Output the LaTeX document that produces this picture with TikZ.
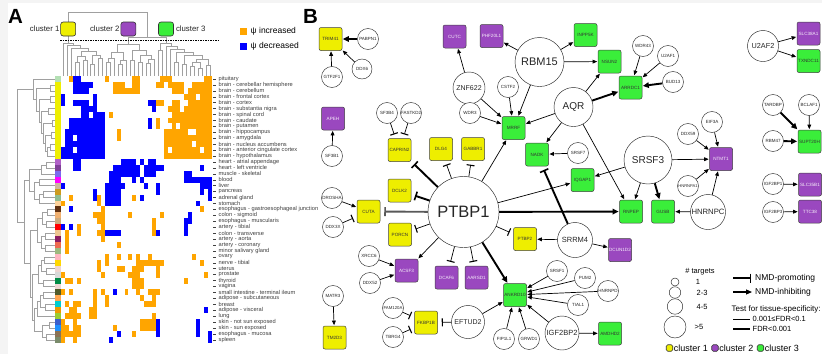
\documentclass[tikz,border=0pt]{standalone}
\usepackage{fontspec}
\setmainfont{Liberation Sans}
\usetikzlibrary{arrows.meta,calc}

\definecolor{hmorange}{HTML}{FFA500}
\definecolor{hmblue}{HTML}{0000FF}
\definecolor{cyel}{HTML}{EEEE00}
\definecolor{cpur}{HTML}{9A48BF}
\definecolor{cgrn}{HTML}{3AEE3A}
\definecolor{dendro}{HTML}{A0A0A0}
\definecolor{labgray}{HTML}{404040}
\definecolor{margin}{HTML}{F4F4F4}

\newcommand\fsz[1]{\fontsize{#1}{#1}\selectfont}
% column dendrogram join: new name, left child, right child, bar height
\newcommand\cmerge[4]{%
  \draw[dline] (#2) -- (#2 |- 0,#4) -- (#3 |- 0,#4) -- (#3);
  \coordinate (#1) at ($(#2 |- 0,#4)!0.5!(#3 |- 0,#4)$);}
% row dendrogram join: new name, upper child, lower child, bar position
\newcommand\rmerge[4]{%
  \draw[dline] (#2) -- (#4,0 |- #2) -- (#4,0 |- #3) -- (#3);
  \coordinate (#1) at ($(#4,0 |- #2)!0.5!(#4,0 |- #3)$);}

\begin{document}
\begin{tikzpicture}[x=1pt,y=-1pt,
  dline/.style={draw=dendro, line width=0.6pt},
  rowlab/.style={anchor=west, inner sep=0pt, font=\fsz{5.7}, text=labgray},
  clbox/.style={rectangle, rounded corners=2.5pt, draw=black!80, line width=0.6pt,
    minimum width=15pt, minimum height=14pt, inner sep=0pt},
  clsq/.style={rectangle, rounded corners=1.5pt, draw=black!80, line width=0.6pt,
    minimum size=6.5pt, inner sep=0pt},
  gene/.style={circle, draw=black!85, line width=0.45pt, fill=white, inner sep=0pt,
    minimum size=21pt, text=black!85, font=\fsz{4.5}},
  tbox/.style={rectangle, rounded corners=2pt, draw=black!75, line width=0.5pt,
    minimum width=23pt, minimum height=23pt, inner sep=0pt, font=\fsz{4.6}},
  yb/.style={tbox, fill=cyel, text=black!80},
  pb/.style={tbox, fill=cpur, text=white!92!cpur},
  gb/.style={tbox, fill=cgrn, text=black!80},
  act/.style={-{Triangle[length=4.5pt,width=3.8pt]}, line width=0.7pt, shorten >=0.6pt},
  tact/.style={-{Triangle[length=6pt,width=5.5pt]}, line width=1.9pt, shorten >=0.6pt},
  inh/.style={-{Bar[width=8pt,line width=1.1pt]}, line width=0.7pt, shorten >=4pt},
  tinh/.style={-{Bar[width=9pt,line width=1.6pt]}, line width=1.9pt, shorten >=4pt}
]
\useasboundingbox (0,0) rectangle (822,354);
\fill[margin] (0,0) rectangle (822,354);
\fill[white] (8,3) rectangle (822,354);

% ================= panel A =================
\node[anchor=base west, inner sep=0pt, font=\bfseries\fsz{20.5}] (labA) at (8,23) {A};

% heatmap cells (row / first column / last column)
\foreach \r/\a/\b in {0/2/2,0/11/11,0/18/19,0/25/27,0/36/37,
  1/13/15,1/18/19,1/24/25,1/27/30,1/33/37,
  2/13/19,2/28/30,2/32/37,
  3/31/33,3/35/37,
  4/24/25,4/28/29,4/32/37,
  5/27/29,5/31/37,
  6/12/12,6/28/37,
  7/24/24,7/27/37,
  8/24/24,8/28/28,8/30/37,
  9/14/14,9/26/31,9/34/37,
  10/14/14,10/26/37,
  11/26/32,11/34/37,
  12/26/26,12/28/34,12/36/37,
  13/26/37,
  20/2/2,20/9/9,20/18/18,
  21/0/0,21/9/9,
  22/10/10,22/35/35,
  23/8/10,23/17/17,23/25/25,
  24/9/10,24/23/23,
  25/4/4,25/10/10,25/23/23,
  26/1/1,26/4/4,26/9/10,26/23/23,
  27/1/1,27/10/10,
  28/1/1,28/14/14,
  29/1/1,
  30/11/11,30/14/14,30/17/17,30/19/19,30/22/22,30/33/33,
  31/9/9,31/11/11,31/19/25,31/35/35,
  32/9/9,32/14/15,32/18/20,32/24/24,
  33/0/0,33/10/10,33/17/19,33/24/24,33/36/36,
  34/1/2,34/4/4,34/18/20,34/31/31,
  35/18/20,
  36/0/0,36/2/2,36/8/8,36/10/10,36/16/16,36/19/19,36/22/24,
  37/8/8,37/11/11,37/20/20,37/23/23,
  38/1/1,38/3/4,38/8/8,38/11/11,38/21/23,
  39/2/3,39/7/8,
  40/1/4,40/7/8,40/23/23,
  41/0/0,41/3/3,41/20/23,
  42/0/1,42/3/4,42/13/13,42/20/23,
  43/0/4,43/18/18,
  44/0/0,44/3/3}
  \fill[hmorange] ({61+3.97*\a},{76+5.93*\r}) rectangle ({61+3.97*(\b+1)},{76+5.93*(\r+1)});
\foreach \r/\a/\b in {0/3/4,1/3/7,2/3/6,3/0/0,3/8/8,
  4/0/0,4/3/6,4/8/8,4/22/23,
  5/5/8,5/23/23,
  6/5/6,6/8/10,
  7/2/10,7/22/22,
  8/2/10,8/22/22,
  9/1/10,
  10/1/2,10/4/10,
  11/1/10,
  12/0/2,12/4/10,
  13/0/10,
  14/3/4,14/15/18,14/20/20,14/22/23,
  15/3/4,15/13/19,15/21/25,15/35/35,
  16/12/19,16/21/23,16/31/32,
  17/12/14,17/18/18,17/20/20,17/31/37,
  18/0/0,18/11/15,18/21/21,18/24/24,18/35/37,
  19/8/8,19/11/14,19/24/24,19/35/35,19/37/37,
  20/8/8,20/11/14,20/20/20,20/37/37,
  21/11/14,21/34/34,
  22/2/2,23/32/32,24/31/32,
  25/0/0,25/2/2,25/31/31,
  26/11/14,26/24/24,26/31/31,
  36/13/13,39/36/36,
  41/24/24,41/34/34,
  42/24/24,42/34/34,
  43/14/14,43/24/24,43/34/34,43/37/37,
  44/12/12,44/37/37}
  \fill[hmblue] ({61+3.97*\a},{76+5.93*\r}) rectangle ({61+3.97*(\b+1)},{76+5.93*(\r+1)});

% tissue colour bar
\foreach \c [count=\i from 0] in {B4E0B4,EEEE00,EEEE00,EEEE00,EEEE00,EEEE00,EEEE00,
  EEEE00,EEEE00,EEEE00,EEEE00,EEEE00,EEEE00,EEEE00,B060C8,7F3F98,7B68EE,FF00FF,
  CDB79E,CD9B1D,8FBC8F,FFD39B,603010,F0B070,CDAA7D,FF0000,EEC591,8B1C62,EE6A50,
  9CBA7F,FFB6C1,FFD700,EED5D2,D9D9D9,008B45,EED5D2,4F5A2A,FFA54F,00CED1,EE9A00,
  9ACD32,3A5FCD,1E90FF,8B7355,7A8B6B}{
  \definecolor{barcol}{HTML}{\c}
  \fill[barcol] (55,{76+5.93*\i}) rectangle (61,{76+5.93*(\i+1)});
}

% tissue names with tick marks
\foreach \lab [count=\i from 0] in {pituitary, brain - cerebellar hemisphere,
  brain - cerebellum, brain - frontal cortex, brain - cortex,
  brain - substantia nigra, brain - spinal cord, brain - caudate,
  brain - putamen, brain - hippocampus, brain - amygdala,
  brain - nucleus accumbens, brain - anterior cingulate cortex,
  brain - hypothalamus, heart - atrial appendage, heart - left ventricle,
  muscle - skeletal, blood, liver, pancreas, adrenal gland, stomach,
  esophagus - gastroesophageal junction, colon - sigmoid,
  esophagus - muscularis, artery - tibial, colon - transverse,
  artery - aorta, artery - coronary, minor salivary gland, ovary,
  nerve - tibial, uterus, prostate, thyroid, vagina,
  small intestine - terminal ileum, adipose - subcutaneous, breast,
  adipose - visceral, lung, skin - not sun exposed, skin - sun exposed,
  esophagus - mucosa, spleen}{
  \draw[labgray, line width=0.5pt] (213.3,{78.965+5.93*\i}) -- (216.3,{78.965+5.93*\i});
  \node[rowlab] (tl\i) at (218.5,{78.965+5.93*\i}) {\lab};
}

% dendrogram leaves
\foreach \j in {0,...,37} \coordinate (L\j) at ({62.985+3.97*\j},76);
\foreach \i in {0,...,44} \coordinate (R\i) at (55,{78.965+5.93*\i});

% row dendrogram
\rmerge{b1}{R1}{R2}{50}
\rmerge{b2}{R3}{R4}{50}
\rmerge{b3}{R5}{R6}{48}
\rmerge{b4}{R7}{R8}{52}
\rmerge{b5}{R9}{R10}{51}
\rmerge{b6}{R11}{R12}{50}
\rmerge{b7}{b6}{R13}{47}
\rmerge{b8}{b5}{b7}{45}
\rmerge{b9}{b4}{b8}{43}
\rmerge{b10}{b3}{b9}{41}
\rmerge{b11}{b2}{b10}{39}
\rmerge{b12}{b1}{b11}{36}
\rmerge{b13}{R0}{b12}{33}
\rmerge{h1}{R14}{R15}{46}
\rmerge{h2}{h1}{R16}{41}
\rmerge{h3}{R17}{R18}{39}
\rmerge{h4}{R19}{R20}{43}
\rmerge{h5}{h4}{R21}{39}
\rmerge{h6}{h3}{h5}{34}
\rmerge{h7}{h2}{h6}{29}
\rmerge{g1}{R22}{R23}{47}
\rmerge{g2}{R24}{R25}{46}
\rmerge{g3}{g1}{g2}{42}
\rmerge{g4}{R26}{R27}{45}
\rmerge{g5}{R28}{R29}{45}
\rmerge{g6}{g4}{g5}{41}
\rmerge{g7}{g3}{g6}{37}
\rmerge{p1}{R30}{R31}{44}
\rmerge{p2}{R32}{R33}{46}
\rmerge{p3}{p1}{p2}{41}
\rmerge{p4}{R34}{R35}{43}
\rmerge{p5}{p3}{p4}{38}
\rmerge{q1}{R36}{R37}{43}
\rmerge{q2}{R38}{R39}{45}
\rmerge{q3}{q1}{q2}{40}
\rmerge{q4}{R40}{q3}{37}
\rmerge{q5}{R41}{R42}{49}
\rmerge{q6}{R43}{R44}{46}
\rmerge{q7}{q5}{q6}{42}
\rmerge{q8}{q4}{q7}{34}
\rmerge{q9}{p5}{q8}{32}
\rmerge{q10}{g7}{q9}{30}
\rmerge{q11}{h7}{q10}{24}
\rmerge{rroot}{b13}{q11}{17}

% column dendrogram, cluster 1
\cmerge{ca}{L3}{L4}{62}
\cmerge{cbb}{L5}{L6}{60}
\cmerge{cG}{ca}{cbb}{56}
\cmerge{cc}{L7}{L8}{64}
\cmerge{cd}{L9}{L10}{58}
\cmerge{cH}{cc}{cd}{55}
\cmerge{cF}{cG}{cH}{51}
\cmerge{cC}{L2}{cF}{48}
\cmerge{cB}{L1}{cC}{45}
\cmerge{root1}{L0}{cB}{43}
% cluster 2
\cmerge{dP}{L11}{L12}{62}
\cmerge{dQ}{dP}{L13}{58}
\cmerge{dR}{L14}{L15}{64}
\cmerge{dS}{dR}{L16}{60}
\cmerge{dT}{dQ}{dS}{52}
\cmerge{dU}{L17}{L18}{60}
\cmerge{dV}{L19}{L20}{62}
\cmerge{dW}{L21}{L22}{63}
\cmerge{dX}{dW}{L23}{59}
\cmerge{dY}{dV}{dX}{55}
\cmerge{dZ}{dU}{dY}{50}
\cmerge{root2}{dT}{dZ}{44}
% cluster 3
\cmerge{eA}{L24}{L25}{50}
\cmerge{eE}{L28}{L29}{62}
\cmerge{eG}{L30}{L31}{64}
\cmerge{eh1}{L32}{L33}{66}
\cmerge{eh2}{L34}{L35}{68}
\cmerge{eh3}{eh1}{eh2}{62}
\cmerge{eh4}{L36}{L37}{65}
\cmerge{eH}{eh3}{eh4}{59}
\cmerge{eF}{eG}{eH}{55}
\cmerge{eD}{eE}{eF}{52}
\cmerge{eC}{L27}{eD}{49}
\cmerge{eB}{L26}{eC}{46}
\cmerge{root3}{eA}{eB}{43}
% upper levels joining the clusters
\draw[dline] (root2) -- (root2 |- 0,37) -- (root3 |- 0,37) -- (root3);
\coordinate (r23) at ($(root2 |- 0,37)!0.5!(root3 |- 0,37)$);
\draw[dline] (r23) -- (r23 |- 0,12) -- (root1 |- 0,12) -- (root1);
\draw[black, line width=0.7pt, dash pattern=on 1.5pt off 1pt] (60,40) -- (220,40);

% cluster markers
\node[clbox, fill=cyel] (k1) at (root1 |- 0,29) {};
\node[clbox, fill=cpur] (k2) at (root2 |- 0,29) {};
\node[clbox, fill=cgrn] (k3) at (root3 |- 0,29) {};
\node[anchor=east, inner sep=0.8pt, font=\fsz{7.8}, text=black!85] (k1t) at (k1.west) {cluster 1};
\node[anchor=east, inner sep=0.8pt, font=\fsz{7.8}, text=black!85] (k2t) at (k2.west) {cluster 2};
\node[anchor=west, inner sep=2pt, font=\fsz{7.8}, text=black!85] (k3t) at (k3.east) {cluster 3};

% psi legend
\node[fill=hmorange, minimum size=7pt, inner sep=0pt] (lgo) at (243.5,31.5) {};
\node[fill=hmblue, minimum size=7pt, inner sep=0pt] (lgb) at (243.5,46.5) {};
\node[anchor=west, inner sep=0pt, font=\fsz{8.5}] (lgot) at (250.5,31.5) {ψ increased};
\node[anchor=west, inner sep=0pt, font=\fsz{8.5}] (lgbt) at (250.5,46.5) {ψ decreased};

% ================= panel B =================
\node[anchor=base west, inner sep=0pt, font=\bfseries\fsz{20.5}] (labB) at (303,23) {B};

% target genes
\node[yb] (TRIM41) at (330.5,39) {TRIM41};
\node[pb] (APEH) at (333,118.5) {APEH};
\node[yb] (CAPRIN2) at (399.5,150) {CAPRIN2};
\node[yb] (DLG4) at (441,149) {DLG4};
\node[yb] (GABBR1) at (473,149) {GABBR1};
\node[yb] (DCLK2) at (399.5,190.5) {DCLK2};
\node[yb] (CUTA) at (368.5,211.5) {CUTA};
\node[yb] (PORCN) at (400,234.5) {PORCN};
\node[yb] (PTBP2) at (525,239) {PTBP2};
\node[pb] (ACSF3) at (406.5,270.5) {ACSF3};
\node[pb] (DCAF6) at (446.5,277.5) {DCAF6};
\node[pb] (AARSD1) at (476.5,277.5) {AARSD1};
\node[gb] (ANKRD10) at (515,295) {ANKRD10};
\node[yb] (TM2D3) at (334.5,337.5) {TM2D3};
\node[yb] (FKBP1B) at (426,322.5) {FKBP1B};
\node[gb] (AMDHD2) at (610,333.5) {AMDHD2};
\node[pb] (DCUN1D2) at (620,250) {DCUN1D2};
\node[pb] (CUTC) at (454.5,36.5) {CUTC};
\node[pb] (PHF20L1) at (491.5,36) {PHF20L1};
\node[gb] (MRRF) at (513.5,128) {MRRF};
\node[gb] (INPP5K) at (585.5,35) {INPP5K};
\node[gb] (NSUN2) at (609.5,61.5) {NSUN2};
\node[gb] (ARRDC1) at (630.5,87.5) {ARRDC1};
\node[gb] (NADK) at (537,154.5) {NADK};
\node[gb] (IQGAP1) at (582.5,180) {IQGAP1};
\node[gb] (RNPEP) at (631,211.5) {RNPEP};
\node[gb] (GUSB) at (663,211.5) {GUSB};
\node[pb] (NTMT1) at (721,159) {NTMT1};
\node[pb] (SLC38A1) at (808.5,33.5) {SLC38A1};
\node[gb] (TXNDC11) at (808.5,61) {TXNDC11};
\node[gb] (SUPT20H) at (809.5,141.5) {SUPT20H};
\node[pb] (SLC35B1) at (810,184.5) {SLC35B1};
\node[pb] (TTC38) at (810,211.5) {TTC38};

% RNA-binding proteins
\node[gene] (PABPN1) at (368,39) {PABPN1};
\node[gene, minimum size=20pt] (DDX6) at (362,69) {DDX6};
\node[gene] (GTF2F1) at (332,77) {GTF2F1};
\node[gene] (SF3B1) at (332,156) {SF3B1};
\node[gene] (SF3B4) at (387,113) {SF3B4};
\node[gene] (FASTKD2) at (411,113) {FASTKD2};
\node[gene] (DROSHA) at (332,198) {DROSHA};
\node[gene] (DDX3X) at (333,227) {DDX3X};
\node[gene, minimum size=71pt, font=\fsz{16.5}] (PTBP1) at (463.5,212) {PTBP1};
\node[gene] (XRCC6) at (369,256) {XRCC6};
\node[gene] (DDX52) at (370,283) {DDX52};
\node[gene] (MATR3) at (333,296) {MATR3};
\node[gene, font=\fsz{4.3}] (FAM120A) at (393,308) {FAM120A};
\node[gene] (TBRG4) at (393,337) {TBRG4};
\node[gene, minimum size=33pt, font=\fsz{7}] (EFTUD2) at (468,322) {EFTUD2};
\node[gene] (FIP1L1) at (504,339) {FIP1L1};
\node[gene] (GRWD1) at (529,339) {GRWD1};
\node[gene, minimum size=34pt, font=\fsz{7.5}] (IGF2BP2) at (562,333) {IGF2BP2};
\node[gene] (SRSF1) at (557,271) {SRSF1};
\node[gene] (PUM2) at (585,278) {PUM2};
\node[gene] (HNRNPD) at (608,291) {HNRNPD};
\node[gene] (TIAL1) at (578,305) {TIAL1};
\node[gene, minimum size=35pt, font=\fsz{7.5}] (SRRM4) at (575,240) {SRRM4};
\node[gene, minimum size=32pt, font=\fsz{7}] (ZNF622) at (469,88) {ZNF622};
\node[gene] (CSTF2) at (508,87) {CSTF2};
\node[gene] (WDR3) at (470,113) {WDR3};
\node[gene, minimum size=49pt, font=\fsz{11}] (RBM15) at (539.5,62) {RBM15};
\node[gene] (WDR43) at (643,46) {WDR43};
\node[gene] (U2AF1) at (668,56) {U2AF1};
\node[gene] (BUD13) at (673,82) {BUD13};
\node[gene, minimum size=39pt, font=\fsz{10}] (AQR) at (573.5,107) {AQR};
\node[gene] (SRSF7) at (578,153) {SRSF7};
\node[gene, minimum size=48pt, font=\fsz{10}] (SRSF3) at (648,160) {SRSF3};
\node[gene] (EIF3A) at (712,122) {EIF3A};
\node[gene] (DDX59) at (688,134) {DDX59};
\node[gene, font=\fsz{4.1}] (HNRNPA1) at (688,186) {HNRNPA1};
\node[gene, minimum size=35pt, font=\fsz{7.7}] (HNRNPC) at (708,212) {HNRNPC};
\node[gene, minimum size=31pt, font=\fsz{7.3}] (U2AF2) at (763,46) {U2AF2};
\node[gene] (TARDBP) at (773,105) {TARDBP};
\node[gene] (BCLAF1) at (809,105) {BCLAF1};
\node[gene] (RBM47) at (773,141) {RBM47};
\node[gene] (IGF2BP1) at (773,184) {IGF2BP1};
\node[gene] (IGF2BP3) at (773,212) {IGF2BP3};

% NMD-inhibiting regulation
\draw[tact] (PABPN1) -- (TRIM41);
\draw[act] (DDX6) -- (TRIM41);
\draw[act] (GTF2F1) -- (TRIM41);
\draw[act] (SF3B1) -- (APEH);
\draw[act] (ZNF622) -- (CUTC);
\draw[act] (RBM15) -- (PHF20L1);
\draw[act] (RBM15) -- (INPP5K);
\draw[act] (RBM15) -- (NSUN2);
\draw[act] (RBM15) -- (MRRF);
\draw[act] (ZNF622) -- (MRRF);
\draw[act] (CSTF2) -- (MRRF);
\draw[act] (WDR3) -- (MRRF);
\draw[act] (AQR) -- (MRRF);
\draw[act] (AQR) -- (NSUN2);
\draw[tact] (AQR) -- (ARRDC1);
\draw[act] (WDR43) -- (ARRDC1);
\draw[act] (U2AF1) -- (ARRDC1);
\draw[tact] (BUD13) -- (ARRDC1);
\draw[act] (AQR) -- (NADK);
\draw[act] (SRSF7) -- (NADK);
\draw[act] (AQR) -- (RNPEP);
\draw[act] (PTBP1) -- (MRRF);
\draw[act] (PTBP1) -- (IQGAP1);
\draw[tact] (PTBP1) -- (RNPEP);
\draw[act] (PTBP1) -- (ACSF3);
\draw[tact] (PTBP1) -- (ANKRD10);
\draw[act] (SRSF3) -- (IQGAP1);
\draw[act] (SRSF3) -- (NTMT1);
\draw[act] (SRSF3) -- (RNPEP);
\draw[tact] (SRSF3) -- (GUSB);
\draw[act] (EIF3A) -- (NTMT1);
\draw[act] (DDX59) -- (NTMT1);
\draw[act] (HNRNPA1) -- (NTMT1);
\draw[act] (HNRNPC) -- (NTMT1);
\draw[act] (HNRNPC) -- (GUSB);
\draw[act] (U2AF2) -- (SLC38A1);
\draw[act] (U2AF2) -- (TXNDC11);
\draw[tact] (TARDBP) -- (SUPT20H);
\draw[act] (BCLAF1) -- (SUPT20H);
\draw[tact] (RBM47) -- (SUPT20H);
\draw[act] (IGF2BP1) -- (SLC35B1);
\draw[act] (IGF2BP3) -- (TTC38);
\draw[act] (SRRM4) -- (PTBP2);
\draw[act] (SRRM4) -- (DCUN1D2);
\draw[act] (DROSHA) -- (CUTA);
\draw[act] (XRCC6) -- (ACSF3);
\draw[act] (DDX52) -- (ACSF3);
\draw[act] (MATR3) -- (TM2D3);
\draw[act] (EFTUD2) -- (ANKRD10);
\draw[act] (FIP1L1) -- (ANKRD10);
\draw[act] (GRWD1) -- (ANKRD10);
\draw[act] (SRSF1) -- (ANKRD10);
\draw[act] (PUM2) -- (ANKRD10);
\draw[act] (HNRNPD) -- (ANKRD10);
\draw[act] (TIAL1) -- (ANKRD10);
\draw[act] (IGF2BP2) -- (ANKRD10);
\draw[act] (IGF2BP2) -- (AMDHD2);

% NMD-promoting regulation
\draw[inh] (SF3B4) -- (CAPRIN2);
\draw[inh] (FASTKD2) -- (CAPRIN2);
\draw[tinh] (PTBP1) -- (CAPRIN2);
\draw[inh] (PTBP1) -- (DLG4);
\draw[inh] (PTBP1) -- (GABBR1);
\draw[tinh] (PTBP1) -- (DCLK2);
\draw[tinh, draw=black!65] (PTBP1) -- (CUTA);
\draw[inh] (PTBP1) -- (PORCN);
\draw[inh] (PTBP1) -- (PTBP2);
\draw[inh] (PTBP1) -- (DCAF6);
\draw[inh] (PTBP1) -- (AARSD1);
\draw[inh] (DDX3X) -- (CUTA);
\draw[tinh] (SRRM4) -- (NADK);
\draw[inh] (FAM120A) -- (FKBP1B);
\draw[inh] (TBRG4) -- (FKBP1B);
\draw[inh] (EFTUD2) -- (FKBP1B);

% legend: number of targets
\node[font=\fsz{7.5}] (lgt) at (700,272) {\# targets};
\node[circle, draw=black!85, line width=0.45pt, minimum size=8pt, inner sep=0pt] (lc1) at (675,282) {};
\node[circle, draw=black!85, line width=0.45pt, minimum size=11.5pt, inner sep=0pt] (lc2) at (675,292.5) {};
\node[circle, draw=black!85, line width=0.45pt, minimum size=15.5pt, inner sep=0pt] (lc3) at (675,306.5) {};
\node[circle, draw=black!85, line width=0.45pt, minimum size=22pt, inner sep=0pt] (lc4) at (675,327) {};
\node[font=\fsz{7.5}] (ln1) at (698,282) {1};
\node[font=\fsz{7.5}] (ln2) at (702,292.5) {2-3};
\node[font=\fsz{7.5}] (ln3) at (702,306.5) {4-5};
\node[font=\fsz{7.5}] (ln4) at (699,327) {>5};

% legend: edge types
\coordinate (np0) at (733,278); \coordinate (np1) at (751,278);
\draw[-{Bar[width=9pt,line width=1.1pt]}, line width=1.1pt] (np0) -- (np1);
\node[anchor=west, inner sep=0pt, font=\fsz{8.5}] (npt) at (755,278) {NMD-promoting};
\coordinate (ni0) at (733,292); \coordinate (ni1) at (752,292);
\draw[-{Triangle[length=6pt,width=5pt]}, line width=1.1pt] (ni0) -- (ni1);
\node[anchor=west, inner sep=0pt, font=\fsz{8.5}] (nit) at (755,292) {NMD-inhibiting};
\node[anchor=west, inner sep=0pt, font=\fsz{8}] (tst) at (731.5,309) {Test for tissue-specificity:};
\coordinate (f10) at (733,319.3); \coordinate (f11) at (750,319.3);
\draw[line width=0.9pt] (f10) -- (f11);
\node[anchor=west, inner sep=0pt, font=\fsz{7.5}] (f1t) at (752.5,319.3) {0.001≤FDR<0.1};
\coordinate (f20) at (733,329); \coordinate (f21) at (750,329);
\draw[line width=2.2pt] (f20) -- (f21);
\node[anchor=west, inner sep=0pt, font=\fsz{7.5}] (f2t) at (752.5,329) {FDR<0.001};

% legend: clusters
\node[clsq, fill=cyel] (sq1) at (669.5,348) {};
\node[clsq, fill=cpur] (sq2) at (715,348) {};
\node[clsq, fill=cgrn] (sq3) at (760.5,348) {};
\node[anchor=west, inner sep=0.6pt, font=\fsz{9}] (sq1t) at (sq1.east) {cluster 1};
\node[anchor=west, inner sep=0.6pt, font=\fsz{9}] (sq2t) at (sq2.east) {cluster 2};
\node[anchor=west, inner sep=0.6pt, font=\fsz{9}] (sq3t) at (sq3.east) {cluster 3};
\end{tikzpicture}
\end{document}
